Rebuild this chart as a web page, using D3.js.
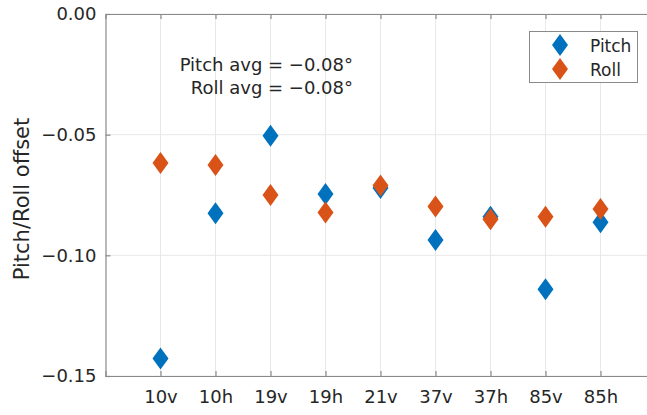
<!DOCTYPE html>
<html>
<head>
<meta charset="utf-8">
<script src="https://cdn.jsdelivr.net/npm/d3@7"></script>
<style>
  body { margin: 0; background: #fff; }
  text { font-family: "DejaVu Sans", sans-serif; fill: #262626; }
</style>
</head>
<body>
<div id="chart"></div>
<script>
//Data
var channels = ["10v", "10h", "19v", "19h", "21v", "37v", "37h", "85v", "85h"];
var pitch = [-0.1427, -0.0826, -0.0504, -0.0746, -0.0721, -0.0936, -0.0840, -0.1141, -0.0863];
var roll  = [-0.0617, -0.0626, -0.0750, -0.0822, -0.0711, -0.0798, -0.0851, -0.0840, -0.0808];
var yTicks = [0, -0.05, -0.10, -0.15];
var seriesNames = ["Pitch", "Roll"];
var colors = ["#0072BD", "#D95319"];
var notes = ["Pitch avg = \u22120.08\u00B0", "Roll avg = \u22120.08\u00B0"];

//Helper variables
var W = 647, H = 415,
    plotLeft = 105.5, plotTop = 14, plotBottom = 376;

var x = d3.scaleLinear().domain([0, channels.length + 1]).range([plotLeft, plotLeft + 55 * (channels.length + 1)]),
    y = d3.scaleLinear().domain([-0.15, 0]).range([plotBottom, plotTop]);

var svg = d3.select("#chart").append("svg")
            .attr("width", W)
            .attr("height", H);

svg.append("rect").attr("width", W).attr("height", H).attr("fill", "#fff");

var idx = channels.map(function(d, i) { return i + 1; });

//Grid
svg.append("g").selectAll("line").data(idx).enter().append("line")
    .attr("x1", function(d) { return x(d); })
    .attr("x2", function(d) { return x(d); })
    .attr("y1", plotTop).attr("y2", plotBottom)
    .attr("stroke", "#e8e8e8").attr("stroke-width", 1);

svg.append("g").selectAll("line").data(yTicks).enter().append("line")
    .attr("x1", plotLeft).attr("x2", W)
    .attr("y1", function(d) { return y(d); })
    .attr("y2", function(d) { return y(d); })
    .attr("stroke", "#e8e8e8").attr("stroke-width", 1);

//Axes
var xAxis = d3.axisBottom(x).tickValues(idx)
    .tickFormat(function(d) { return channels[d - 1]; })
    .tickSize(-5).tickPadding(14);
var xTop = d3.axisTop(x).tickValues(idx).tickFormat("").tickSize(-5);
var yAxis = d3.axisLeft(y).tickValues(yTicks).tickFormat(d3.format(".2f"))
    .tickSize(-5).tickPadding(9);

function styleAxis(g) {
    g.select(".domain").attr("stroke", "#8a8a8a").attr("stroke-width", 1.2);
    g.selectAll(".tick line").attr("stroke", "#8a8a8a").attr("stroke-width", 1.2);
    g.selectAll(".tick text").attr("font-size", 18).attr("fill", "#262626")
        .attr("font-family", "DejaVu Sans, sans-serif");
}

svg.append("g").attr("transform", "translate(0," + plotBottom + ")").call(xAxis).call(styleAxis);
svg.append("g").attr("transform", "translate(0," + plotTop + ")").call(xTop).call(styleAxis);
svg.append("g").attr("transform", "translate(" + plotLeft + ",0)").call(yAxis).call(styleAxis);

//Diamonds
function diamond(cx, cy, hw, hh) {
    return "M" + cx + "," + (cy - hh) + "L" + (cx + hw) + "," + cy +
           "L" + cx + "," + (cy + hh) + "L" + (cx - hw) + "," + cy + "Z";
}

[pitch, roll].forEach(function(vals, s) {
    svg.append("g").selectAll("path").data(vals).enter().append("path")
        .attr("d", function(d, i) { return diamond(x(i + 1), y(d), 8, 11); })
        .attr("fill", colors[s]);
});

//Annotation
svg.append("g").selectAll("text").data(notes).enter().append("text")
    .attr("x", 353)
    .attr("y", function(d, i) { return 71 + i * 23; })
    .attr("text-anchor", "end")
    .attr("font-size", 18)
    .text(function(d) { return d; });

//Legend
var legend = svg.append("g");
legend.append("rect")
    .attr("x", 529.5).attr("y", 31.5).attr("width", 108).attr("height", 51)
    .attr("fill", "#fff").attr("stroke", "#8a8a8a").attr("stroke-width", 1);
seriesNames.forEach(function(n, i) {
    legend.append("path").attr("d", diamond(560, 45 + i * 24, 8, 11)).attr("fill", colors[i]);
    legend.append("text").attr("x", 590).attr("y", 52 + i * 23.5)
        .attr("font-size", 17).text(n);
});

//Y label
svg.append("text")
    .attr("transform", "translate(29,199) rotate(-90)")
    .attr("text-anchor", "middle")
    .attr("font-size", 21)
    .text("Pitch/Roll offset");
</script>
</body>
</html>
